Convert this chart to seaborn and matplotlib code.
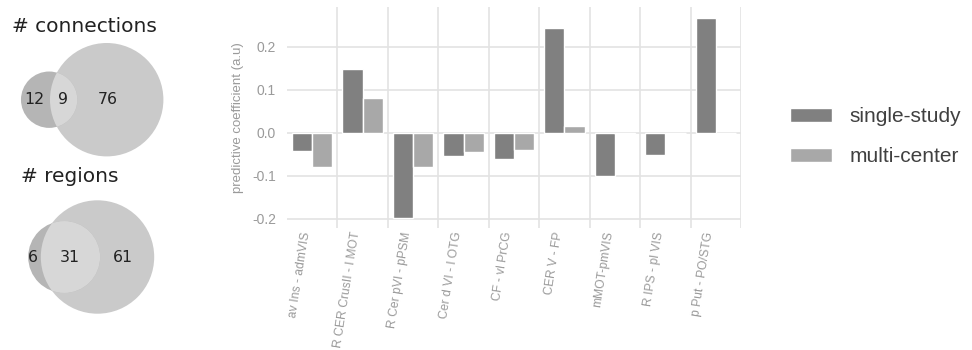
import math
import pandas as pd
import seaborn as sns
import matplotlib.pyplot as plt
from matplotlib.patches import Circle

sns.set_theme(style="whitegrid")
plt.rcParams["font.family"] = ["Liberation Sans", "DejaVu Sans"]
plt.rcParams["axes.unicode_minus"] = False

# bar chart data
connections = ["av Ins - admVIS", "R CER CrusII - l MOT", "R Cer pVI - pPSM", "Cer d VI - l OTG",
               "CF - vl PrCG", "CER V - FP", "mMOT-pmVIS", "R IPS - pl VIS", "p Put - PO/STG"]
single_study = [-0.042, 0.148, -0.199, -0.054, -0.061, 0.243, -0.100, -0.051, 0.268]
multi_center = [-0.081, 0.080, -0.079, -0.044, -0.041, 0.016, -0.004, 0.0, 0.0]
groups = ["single-study", "multi-center"]
group_colors = ["#808080", "#a8a8a8"]

# venn data: (only A, both, only B)
venn_titles = ["# connections", "# regions"]
venn_counts = [(12, 9, 76), (6, 31, 61)]

df = pd.DataFrame({
    "connection": connections * 2,
    "coef": single_study + multi_center,
    "group": [groups[0]] * len(connections) + [groups[1]] * len(connections),
})

fig = plt.figure(figsize=(9.72, 3.5), dpi=100)

# ---- bar chart ----
ax = fig.add_axes([287 / 972, 1 - 228 / 350, (741 - 287) / 972, (228 - 7) / 350])
sns.barplot(data=df, x="connection", y="coef", hue="group", palette=group_colors,
            width=0.8, edgecolor="white", linewidth=1, ax=ax)
ax.set_ylim(-0.222, 0.293)
ax.set_xlim(-0.5, len(connections) - 0.5)
ax.set_yticks([-0.2, -0.1, 0.0, 0.1, 0.2])
ax.set_yticklabels(["-0.2", "-0.1", "0.0", "0.1", "0.2"])
ax.set_xticks([i + 0.5 for i in range(len(connections))], minor=True)
ax.grid(False)
ax.grid(axis="y", which="major", color="#e3e3e3", lw=1.2)
ax.grid(axis="x", which="minor", color="#e3e3e3", lw=1.2)
ax.set_axisbelow(True)
for s in ax.spines.values():
    s.set_visible(False)
ax.tick_params(axis="both", which="both", length=0)
ax.tick_params(axis="y", labelsize=10, labelcolor="#9a9a9a", pad=8)
ax.tick_params(axis="x", labelsize=8.7, labelcolor="#9a9a9a", pad=2)
plt.setp(ax.get_xticklabels(), rotation=81, ha="right", va="top")
ax.set_xlabel("")
ax.set_ylabel("predictive coefficient (a.u)", fontsize=9.5, color="#9a9a9a", labelpad=6)

handles, labels = ax.get_legend_handles_labels()
ax.get_legend().remove()
fig.legend(handles, labels, loc="upper left", bbox_to_anchor=(790 / 972, 1 - 107 / 350),
           frameon=False, fontsize=15, labelcolor="#404040", handlelength=2.0, handleheight=0.67,
           handletextpad=0.85, labelspacing=1.02, borderpad=0, borderaxespad=0)


# ---- venn diagrams ----
def lens_area(r1, r2, d):
    if d >= r1 + r2:
        return 0.0
    if d <= abs(r1 - r2):
        return math.pi * min(r1, r2) ** 2
    a1 = r1 ** 2 * math.acos((d * d + r1 * r1 - r2 * r2) / (2 * d * r1))
    a2 = r2 ** 2 * math.acos((d * d + r2 * r2 - r1 * r1) / (2 * d * r2))
    a3 = 0.5 * math.sqrt((-d + r1 + r2) * (d + r1 - r2) * (d - r1 + r2) * (d + r1 + r2))
    return a1 + a2 - a3


def center_distance(r1, r2, target):
    lo, hi = abs(r1 - r2), r1 + r2
    for _ in range(60):
        mid = (lo + hi) / 2
        if lens_area(r1, r2, mid) > target:
            lo = mid
        else:
            hi = mid
    return (lo + hi) / 2


vax = fig.add_axes([0, 0, 200 / 972, 1])
vax.set_xlim(0, 200)
vax.set_ylim(350, 0)
vax.set_aspect("equal")
vax.axis("off")

big_r = 56.7
big_centers = [(106.7, 99.7), (97.5, 257.0)]
title_pos = [(12, 26), (21, 177)]
label_x = [(34, 63, 108), (33, 70, 123)]

for title, counts, (bx, by), (tx, ty), lx in zip(venn_titles, venn_counts, big_centers, title_pos, label_x):
    only_a, both, only_b = counts
    unit = math.pi * big_r ** 2 / (both + only_b)
    small_r = math.sqrt((only_a + both) * unit / math.pi)
    d = center_distance(small_r, big_r, both * unit)
    sx = bx - d
    big = Circle((bx, by), big_r, color="#cacaca", lw=0)
    vax.add_patch(big)
    vax.add_patch(Circle((sx, by), small_r, color="#b5b5b5", lw=0))
    inter = Circle((sx, by), small_r, color="#d7d7d7", lw=0)
    vax.add_patch(inter)
    inter.set_clip_path(big)
    vax.text(tx, ty, title, fontsize=14.5, color="#222222", family="DejaVu Sans", va="center")
    for x, n in zip(lx, counts):
        vax.text(x, by, str(n), fontsize=11.3, color="#222222", family="DejaVu Sans",
                 ha="center", va="center")

fig.savefig("out.png", dpi=100)
